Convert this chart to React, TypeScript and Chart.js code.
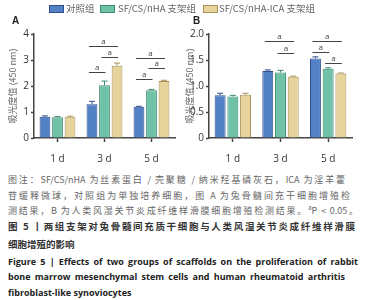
import React, { useEffect, useRef } from "react";
import { Chart, registerables } from "chart.js";

Chart.register(...registerables);

// ---------- data ----------
const days = ["1 d", "3 d", "5 d"];
const seriesNames = ["对照组", "SF/CS/nHA 支架组", "SF/CS/nHA-ICA 支架组"];
const seriesFill = ["#5381c6", "#6fc2a8", "#e6d49c"];
const seriesEdge = ["#2e4f8c", "#3e8a73", "#a6925a"];

const aControl = [0.82, 1.3, 1.2];
const aScaffold = [0.8, 2.03, 1.84];
const aIca = [0.82, 2.78, 2.19];
const aControlErr = [0.03, 0.11, 0.02];
const aScaffoldErr = [0.02, 0.16, 0.03];
const aIcaErr = [0.02, 0.1, 0.03];

const bControl = [0.82, 1.29, 1.53];
const bScaffold = [0.8, 1.26, 1.33];
const bIca = [0.83, 1.18, 1.24];
const bControlErr = [0.04, 0.02, 0.03];
const bScaffoldErr = [0.02, 0.04, 0.02];
const bIcaErr = [0.03, 0.01, 0.01];

const aTicks = [0, 1, 2, 3, 4];
const aTickLabels = ["0", "1", "2", "3", "4"];
const bTicks = [0, 0.5, 1, 1.5, 2];
const bTickLabels = ["0", "0.5", "1.0", "1.5", "2.0"];

// significance brackets: [category index, series from, series to, bracket level]
const aSig = [
  [1, 0, 1, 2.54],
  [1, 1, 2, 3.12],
  [1, 0, 2, 3.54],
  [2, 0, 1, 2.27],
  [2, 1, 2, 2.69],
  [2, 0, 2, 3.08],
];
const bSig = [
  [1, 0, 2, 1.87],
  [1, 1, 2, 1.63],
  [2, 0, 2, 1.87],
  [2, 0, 1, 1.65],
  [2, 1, 2, 1.44],
];

const yTitle = "吸光度值 (450 nm)";

const captionGrey = [
  "图注：SF/CS/nHA 为丝素蛋白 / 壳聚糖 / 纳米羟基磷灰石，ICA 为淫羊藿",
  "苷缓释微球，对照组为单独培养细胞，图 A 为兔骨髓间充干细胞增殖检",
  "测结果，B 为人类风湿关节炎成纤维样滑膜细胞增殖检测结果。",
];
const captionTitleCn = [
  "图 5 丨两组支架对兔骨髓间充质干细胞与人类风湿关节炎成纤维样滑膜",
  "细胞增殖的影响",
];
const captionTitleEn = [
  "Figure 5 | Effects of two groups of scaffolds on the proliferation of rabbit",
  "bone marrow mesenchymal stem cells and human rheumatoid arthritis",
  "fibroblast-like synoviocytes",
];

// ---------- plugins ----------
const errorBarPlugin = {
  id: "errorBars",
  afterDatasetsDraw(chart: any) {
    const ctx = chart.ctx;
    const yScale = chart.scales.y;
    chart.data.datasets.forEach((ds: any, i: number) => {
      const meta = chart.getDatasetMeta(i);
      meta.data.forEach((bar: any, j: number) => {
        const v = ds.data[j];
        const e = ds.errors[j];
        const yTop = yScale.getPixelForValue(v + e);
        const yBar = yScale.getPixelForValue(v);
        const half = bar.width * 0.28;
        ctx.save();
        ctx.strokeStyle = ds.borderColor;
        ctx.lineWidth = 1;
        ctx.beginPath();
        ctx.moveTo(bar.x, yBar);
        ctx.lineTo(bar.x, yTop);
        ctx.moveTo(bar.x - half, yTop);
        ctx.lineTo(bar.x + half, yTop);
        ctx.stroke();
        ctx.restore();
      });
    });
  },
};

const sigPlugin = {
  id: "sigBrackets",
  afterDatasetsDraw(chart: any, _args: any, opts: any) {
    const ctx = chart.ctx;
    const yScale = chart.scales.y;
    const list = opts.brackets || [];
    ctx.save();
    ctx.strokeStyle = "#444";
    ctx.fillStyle = "#444";
    ctx.lineWidth = 1;
    ctx.font = '8px "Open Sans", sans-serif';
    ctx.textAlign = "center";
    ctx.textBaseline = "bottom";
    list.forEach((b: number[]) => {
      const [cat, s1, s2, level] = b;
      const x1 = chart.getDatasetMeta(s1).data[cat].x - 3;
      const x2 = chart.getDatasetMeta(s2).data[cat].x + 1;
      const y = Math.round(yScale.getPixelForValue(level)) + 0.5;
      ctx.beginPath();
      ctx.moveTo(x1, y);
      ctx.lineTo(x2, y);
      ctx.stroke();
      ctx.fillText("a", (x1 + x2) / 2, y - 1);
    });
    ctx.restore();
  },
};

// ---------- panel ----------
type PanelProps = {
  left: number;
  values: number[][];
  errors: number[][];
  ticks: number[];
  tickLabels: string[];
  max: number;
  sig: number[][];
  yWidth: number;
  padRight: number;
  titlePad: number;
};

const W = 184;
const H = 172;

function Panel(p: PanelProps) {
  const ref = useRef<HTMLCanvasElement>(null);
  useEffect(() => {
    if (!ref.current) return;
    const chart = new Chart(ref.current, {
      type: "bar",
      data: {
        labels: days,
        datasets: p.values.map((vals, i) => ({
          label: seriesNames[i],
          data: vals,
          errors: p.errors[i],
          backgroundColor: seriesFill[i],
          borderColor: seriesEdge[i],
          borderWidth: 1,
          categoryPercentage: 0.8,
          barPercentage: 0.86,
        })) as any,
      },
      options: {
        animation: false,
        responsive: false,
        devicePixelRatio: 1,
        layout: { padding: { top: 34, right: p.padRight, left: 0, bottom: 0 } },
        plugins: {
          legend: { display: false },
          tooltip: { enabled: false },
          sigBrackets: { brackets: p.sig },
        } as any,
        scales: {
          x: {
            offset: true,
            grid: {
              display: true,
              offset: false,
              drawOnChartArea: false,
              drawTicks: true,
              tickLength: 4,
              tickColor: "#444",
              tickWidth: 1.5,
            },
            border: { color: "#444", width: 1.5 },
            ticks: {
              color: "#333",
              padding: 11,
              font: { family: '"Open Sans", sans-serif', size: 10 },
            },
            afterFit: (s: any) => {
              s.height = H - 138;
            },
          },
          y: {
            min: 0,
            max: p.max,
            afterBuildTicks: (s: any) => {
              s.ticks = p.ticks.map((v) => ({ value: v }));
            },
            grid: {
              display: true,
              drawOnChartArea: false,
              drawTicks: true,
              tickLength: 3,
              tickColor: "#444",
              tickWidth: 1.5,
            },
            border: { color: "#444", width: 1.5 },
            ticks: {
              color: "#333",
              padding: 2,
              font: { family: '"Open Sans", sans-serif', size: 10 },
              callback: (_v: any, i: number) => p.tickLabels[i],
            },
            title: {
              display: true,
              text: yTitle,
              color: "#666",
              padding: { top: p.titlePad, bottom: 0 },
              font: { family: '"Noto Sans CJK SC", sans-serif', size: 9 },
            },
            afterFit: (s: any) => {
              s.width = p.yWidth;
            },
          },
        },
      },
      plugins: [errorBarPlugin, sigPlugin],
    } as any);
    return () => chart.destroy();
  }, []);
  return (
    <canvas
      ref={ref}
      width={W}
      height={H}
      style={{ position: "absolute", left: p.left, top: 0, width: W, height: H }}
    />
  );
}

// ---------- app ----------
export default function App() {
  const lineBase: React.CSSProperties = {
    position: "absolute",
    left: 8,
    whiteSpace: "nowrap",
    lineHeight: "12px",
    height: 12,
  };
  const justified = (w: number): React.CSSProperties => ({
    width: w,
    whiteSpace: "normal",
    textAlign: "justify",
    textAlignLast: "justify" as any,
    overflow: "visible",
  });
  const cn = '"Noto Sans CJK SC", sans-serif';
  const en = '"Open Sans", "Noto Sans", sans-serif';
  return (
    <div
      style={{
        position: "absolute",
        left: 0,
        top: 0,
        width: 368,
        height: 300,
        background: "#fff",
        overflow: "hidden",
        fontFamily: cn,
      }}
    >
      <Panel
        left={0}
        values={[aControl, aScaffold, aIca]}
        errors={[aControlErr, aScaffoldErr, aIcaErr]}
        ticks={aTicks}
        tickLabels={aTickLabels}
        max={4}
        sig={aSig}
        yWidth={34}
        padRight={9}
        titlePad={7}
      />
      <Panel
        left={184}
        values={[bControl, bScaffold, bIca]}
        errors={[bControlErr, bScaffoldErr, bIcaErr]}
        ticks={bTicks}
        tickLabels={bTickLabels}
        max={2}
        sig={bSig}
        yWidth={25}
        padRight={16}
        titlePad={0}
      />
      {/* legend */}
      {[
        { x: 49, tx: 66 },
        { x: 100, tx: 118 },
        { x: 203, tx: 219 },
      ].map((l, i) => (
        <React.Fragment key={i}>
          <div
            style={{
              position: "absolute",
              left: l.x,
              top: 5,
              width: 13,
              height: 6,
              background: seriesFill[i],
              border: `1px solid ${seriesEdge[i]}`,
            }}
          />
          <div
            style={{
              position: "absolute",
              left: l.tx,
              top: 2,
              fontSize: 9.5,
              lineHeight: "12px",
              color: "#666",
              whiteSpace: "nowrap",
              fontFamily: cn,
            }}
          >
            {seriesNames[i]}
          </div>
        </React.Fragment>
      ))}
      {/* panel letters */}
      <div style={{ position: "absolute", left: 12, top: 15, fontSize: 10, fontWeight: 700, fontFamily: '"Liberation Sans", sans-serif', color: "#222" }}>A</div>
      <div style={{ position: "absolute", left: 193, top: 15, fontSize: 10, fontWeight: 700, fontFamily: '"Liberation Sans", sans-serif', color: "#222" }}>B</div>

      {/* caption */}
      <div style={{ ...lineBase, ...justified(337), top: 174, fontSize: 9, color: "#666", fontFamily: cn }}>
        {captionGrey[0]}
      </div>
      <div style={{ ...lineBase, ...justified(342), top: 190, fontSize: 9, color: "#666", fontFamily: cn }}>
        {captionGrey[1]}
      </div>
      <div style={{ ...lineBase, ...justified(350), top: 205, fontSize: 9, color: "#666", fontFamily: cn }}>
        {captionGrey[2]}
        <sup style={{ fontSize: 6, lineHeight: 0 }}>a</sup>P &lt; 0.05。
      </div>
      <div style={{ ...lineBase, ...justified(347), top: 220, fontSize: 9.5, fontWeight: 700, color: "#333", fontFamily: cn }}>
        {captionTitleCn[0]}
      </div>
      <div style={{ ...lineBase, top: 238, fontSize: 9.5, fontWeight: 700, color: "#333", fontFamily: cn }}>
        {captionTitleCn[1]}
      </div>
      <div style={{ ...lineBase, ...justified(350), top: 256, fontSize: 9, fontWeight: 700, color: "#222", fontFamily: en }}>
        {captionTitleEn[0]}
      </div>
      <div style={{ ...lineBase, ...justified(337), top: 271, fontSize: 9, fontWeight: 700, color: "#222", fontFamily: en }}>
        {captionTitleEn[1]}
      </div>
      <div style={{ ...lineBase, top: 287, fontSize: 9, fontWeight: 700, color: "#222", fontFamily: en }}>
        {captionTitleEn[2]}
      </div>
    </div>
  );
}
